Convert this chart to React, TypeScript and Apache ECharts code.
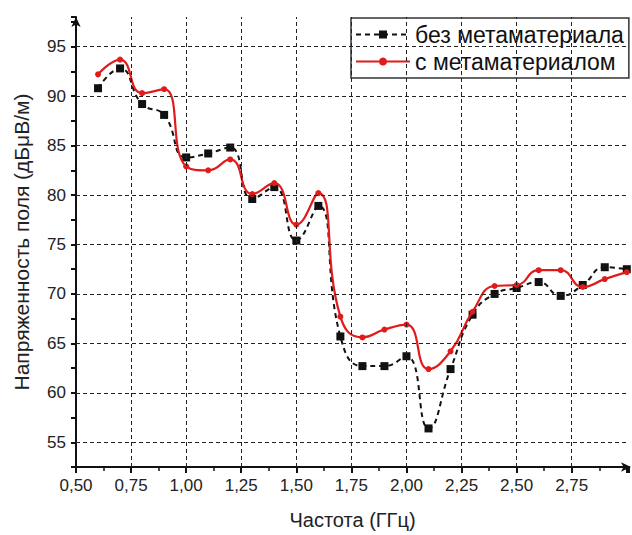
import React, { useEffect, useRef } from "react";
import * as echarts from "echarts";

const freqs = [0.6, 0.7, 0.8, 0.9, 1.0, 1.1, 1.2, 1.3, 1.4, 1.5, 1.6, 1.7, 1.8, 1.9, 2.0, 2.1, 2.2, 2.3, 2.4, 2.5, 2.6, 2.7, 2.8, 2.9, 3.0];
const withoutMeta = [90.8, 92.8, 89.2, 88.1, 83.8, 84.2, 84.8, 79.6, 80.8, 75.4, 78.9, 65.7, 62.7, 62.7, 63.7, 56.4, 62.4, 67.9, 70.0, 70.6, 71.2, 69.8, 70.9, 72.7, 72.5];
const withMeta = [92.2, 93.7, 90.3, 90.7, 82.9, 82.5, 83.6, 80.1, 81.2, 77.0, 80.2, 67.7, 65.6, 66.4, 66.9, 62.4, 64.2, 68.2, 70.8, 70.9, 72.4, 72.4, 70.7, 71.5, 72.2];
const xGridValues = [0.75, 1.0, 1.25, 1.5, 1.75, 2.0, 2.25, 2.5, 2.75];
const yGridValues = [55, 60, 65, 70, 75, 80, 85, 90, 95];
const seriesNames = ["без метаматериала", "с метаматериалом"];
const xTitle = "Частота (ГГц)";
const yTitle = "Напряженность поля (дБμВ/м)";

const FONT = "Liberation Sans, Arial, sans-serif";

export default function App() {
  const ref = useRef<HTMLDivElement>(null);
  useEffect(() => {
    if (!ref.current) return;
    const chart = echarts.init(ref.current, undefined, { renderer: "svg" });
    const gridLine = { color: "#222", width: 1, type: [4, 3] as any };
    chart.setOption({
      animation: false,
      backgroundColor: "#fff",
      textStyle: { fontFamily: FONT },
      grid: { left: 76, top: 17, right: 1, bottom: 66, containLabel: false },
      legend: {
        orient: "vertical",
        left: 351,
        top: 18,
        padding: [5, 5, 5, 4],
        itemGap: 4,
        itemWidth: 54,
        itemHeight: 10,
        borderColor: "#333",
        borderWidth: 1.5,
        backgroundColor: "#fff",
        textStyle: { fontSize: 23, color: "#111", fontFamily: FONT },
        data: seriesNames,
      },
      xAxis: {
        type: "value",
        min: 0.5,
        max: 3.01,
        interval: 0.25,
        name: xTitle,
        nameLocation: "middle",
        nameGap: 43,
        nameTextStyle: { fontSize: 20, color: "#222", fontFamily: FONT },
        axisLine: { show: true, lineStyle: { color: "#111", width: 2 }, symbol: ["none", "arrow"], symbolSize: [7, 10], symbolOffset: [0, 2] },
        axisTick: { show: true, length: 6, lineStyle: { width: 2, color: "#111" } },
        minorTick: { show: true, splitNumber: 2, length: 4, lineStyle: { width: 1.5, color: "#111" } },
        axisLabel: {
          fontSize: 17,
          color: "#222",
          margin: 10,
          formatter: (v: number) => (v > 2.8 ? "" : v.toFixed(2).replace(".", ",")),
        },
        splitLine: { show: false },
      },
      yAxis: {
        type: "value",
        min: 52.5,
        max: 98,
        interval: 2.5,
        name: yTitle,
        nameLocation: "middle",
        nameGap: 44,
        nameRotate: 90,
        nameTextStyle: { fontSize: 21, color: "#222", fontFamily: FONT },
        axisLine: { show: true, lineStyle: { color: "#111", width: 2 }, symbol: ["none", "arrow"], symbolSize: [7, 10] },
        axisTick: { show: true, length: 5, lineStyle: { width: 2, color: "#111" } },
        axisLabel: {
          fontSize: 17,
          color: "#222",
          margin: 10,
          formatter: (v: number) => (v % 5 === 0 && v >= 55 && v <= 95 ? String(v) : ""),
        },
        splitLine: { show: false },
      },
      series: [
        {
          name: seriesNames[0],
          type: "line",
          data: freqs.map((f, i) => [f, withoutMeta[i]]),
          smooth: 0.5,
          symbol: "rect",
          symbolSize: 8,
          itemStyle: { color: "#111" },
          lineStyle: { color: "#111", width: 2, type: [5, 4] as any },
          z: 3,
          markLine: {
            silent: true,
            symbol: ["none", "none"],
            label: { show: false },
            lineStyle: gridLine,
            data: [
              ...xGridValues.map((v) => ({ xAxis: v })),
              ...yGridValues.map((v) => ({ yAxis: v })),
            ],
          },
        },
        {
          name: seriesNames[1],
          type: "line",
          data: freqs.map((f, i) => [f, withMeta[i]]),
          smooth: 0.5,
          symbol: "circle",
          symbolSize: 6,
          itemStyle: { color: "#e01b1b" },
          lineStyle: { color: "#e01b1b", width: 2.2 },
          z: 4,
        },
      ],
    });
    return () => chart.dispose();
  }, []);
  return <div ref={ref} style={{ position: "fixed", left: 0, top: 0, width: 632, height: 535 }} />;
}
